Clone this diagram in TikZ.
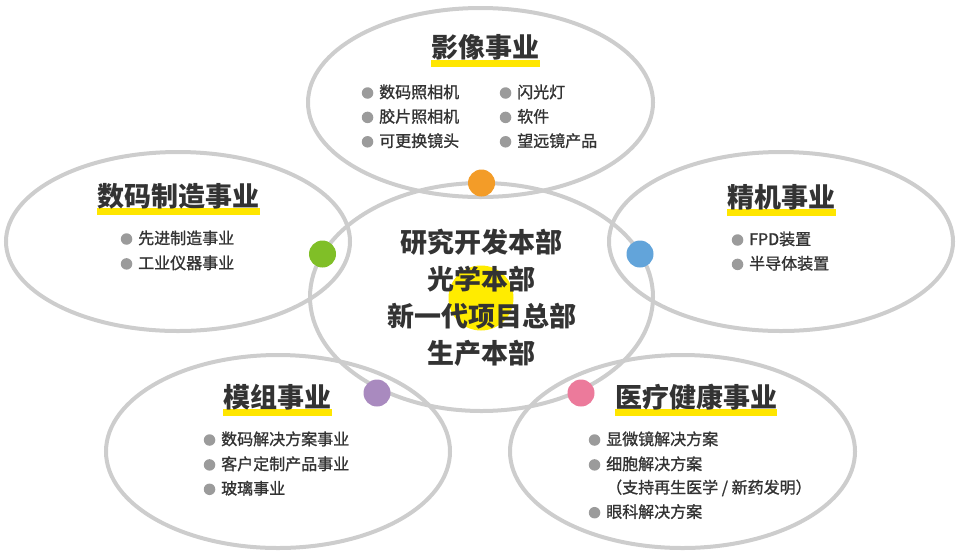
\documentclass[tikz,border=0pt]{standalone}
\usepackage{fontspec}
\setmainfont{Noto Sans CJK SC}
\newfontfamily\itemfont[FakeBold=1.2]{Noto Sans CJK SC}
\usepackage{xcolor}
\usepackage{tikz}
\usetikzlibrary{shapes.geometric, positioning, backgrounds}
\definecolor{ringgray}{HTML}{CDCDCD}
\definecolor{textdark}{HTML}{333333}
\definecolor{bulletgray}{HTML}{9B9B9B}
\definecolor{hlyellow}{HTML}{FFE600}
\definecolor{hubyellow}{HTML}{FFEC00}
\definecolor{dotorange}{HTML}{F39C28}
\definecolor{dotgreen}{HTML}{80BF27}
\definecolor{dotblue}{HTML}{62A4DA}
\definecolor{dotpurple}{HTML}{A98ABF}
\definecolor{dotpink}{HTML}{EC7A9B}

\begin{document}
\begin{tikzpicture}[
    x=1pt, y=-1pt,
    node distance=8pt,
    ring/.style={ellipse, draw=ringgray, line width=4pt, inner sep=0pt},
    dot/.style={circle, inner sep=0pt, minimum size=27pt},
    title/.style={font=\fontsize{27}{32}\selectfont\bfseries, text=textdark, inner sep=0pt, text height=23pt, text depth=3pt},
    bullet/.style={circle, fill=bulletgray, inner sep=0pt, minimum size=11.5pt, text height=0pt, text depth=0pt, label distance=5.5pt},
    item/.style={font=\fontsize{16}{19}\selectfont\itemfont, text=textdark, inner sep=0pt, anchor=west, text height=13pt, text depth=3pt, label={[bullet]left:{}}},
    note/.style={font=\fontsize{16}{19}\selectfont\itemfont, text=textdark, inner sep=0pt, text height=13pt, text depth=3pt}
]
    \useasboundingbox (0,0) rectangle (960,558);

    % rings
    \node (ringimg) [ring, minimum width=345pt, minimum height=189pt] at (480.5,102.5) {};
    \node (ringdig) [ring, minimum width=344pt, minimum height=179pt] at (178,241.5) {};
    \node (ringprec) [ring, minimum width=344pt, minimum height=179pt] at (781,241.5) {};
    \node (ringhq) [ring, minimum width=343pt, minimum height=228pt] at (481.5,297) {};
    \node (ringmod) [ring, minimum width=344pt, minimum height=193pt] at (278,451.5) {};
    \node (ringmed) [ring, minimum width=345pt, minimum height=193pt] at (682.5,451.5) {};

    % dots
    \node (hub) [dot, fill=hubyellow, minimum size=65pt] at (481,298) {};
    \node (dimg) [dot, fill=dotorange] at (481.5,183) {};
    \node (ddig) [dot, fill=dotgreen] at (322.5,254) {};
    \node (dprec) [dot, fill=dotblue] at (640,254) {};
    \node (dmod) [dot, fill=dotpurple] at (377,393) {};
    \node (dmed) [dot, fill=dotpink] at (581,393) {};

    % centre
    \node (hqtext) [font=\fontsize{27}{37}\selectfont\bfseries, text=textdark, align=center, inner sep=0pt] at (481.5,298) {研究开发本部\\光学本部\\新一代项目总部\\生产本部};

    % imaging
    \node (timg) [title] at (485.5,47.5) {影像事业};
    \node (img1) [item] at (379,93) {数码照相机};
    \node (img2) [item, below right=8pt and 0pt of img1.south west] {胶片照相机};
    \node (img3) [item, below right=8pt and 0pt of img2.south west] {可更换镜头};
    \node (img4) [item] at (517,93) {闪光灯};
    \node (img5) [item, below right=8pt and 0pt of img4.south west] {软件};
    \node (img6) [item, below right=8pt and 0pt of img5.south west] {望远镜产品};

    % digital manufacturing
    \node (tdig) [title] at (178.5,196) {数码制造事业};
    \node (dig1) [item] at (138,239) {先进制造事业};
    \node (dig2) [item, below right=8.5pt and 0pt of dig1.south west] {工业仪器事业};

    % precision
    \node (tprec) [title] at (781.5,197) {精机事业};
    \node (prec1) [item] at (749,240) {FPD装置};
    \node (prec2) [item, below right=8pt and 0pt of prec1.south west] {半导体装置};

    % modules
    \node (tmod) [title] at (277.5,397) {模组事业};
    \node (mod1) [item] at (221,440) {数码解决方案事业};
    \node (mod2) [item, below right=8.5pt and 0pt of mod1.south west] {客户定制产品事业};
    \node (mod3) [item, below right=8pt and 0pt of mod2.south west] {玻璃事业};

    % medical
    \node (tmed) [title] at (696,397) {医疗健康事业};
    \node (med1) [item] at (606,440) {显微镜解决方案};
    \node (med2) [item, below right=8.5pt and 0pt of med1.south west] {细胞解决方案};
    \node (med3) [note, below right=7pt and 0pt of med2.south west, anchor=north west] {（支持再生医学 / 新药发明）};
    \node (med4) [item, below right=8pt and 0pt of med3.south west] {眼科解决方案};

    % title bars
    \begin{scope}[on background layer]
        \fill[hlyellow] ([yshift=1pt]timg.south west) rectangle ([yshift=-6pt]timg.south east);
        \fill[hlyellow] ([yshift=1pt]tdig.south west) rectangle ([yshift=-6pt]tdig.south east);
        \fill[hlyellow] ([yshift=1pt]tprec.south west) rectangle ([yshift=-6pt]tprec.south east);
        \fill[hlyellow] ([yshift=1pt]tmod.south west) rectangle ([yshift=-6pt]tmod.south east);
        \fill[hlyellow] ([yshift=1pt]tmed.south west) rectangle ([yshift=-6pt]tmed.south east);
    \end{scope}
\end{tikzpicture}
\end{document}
